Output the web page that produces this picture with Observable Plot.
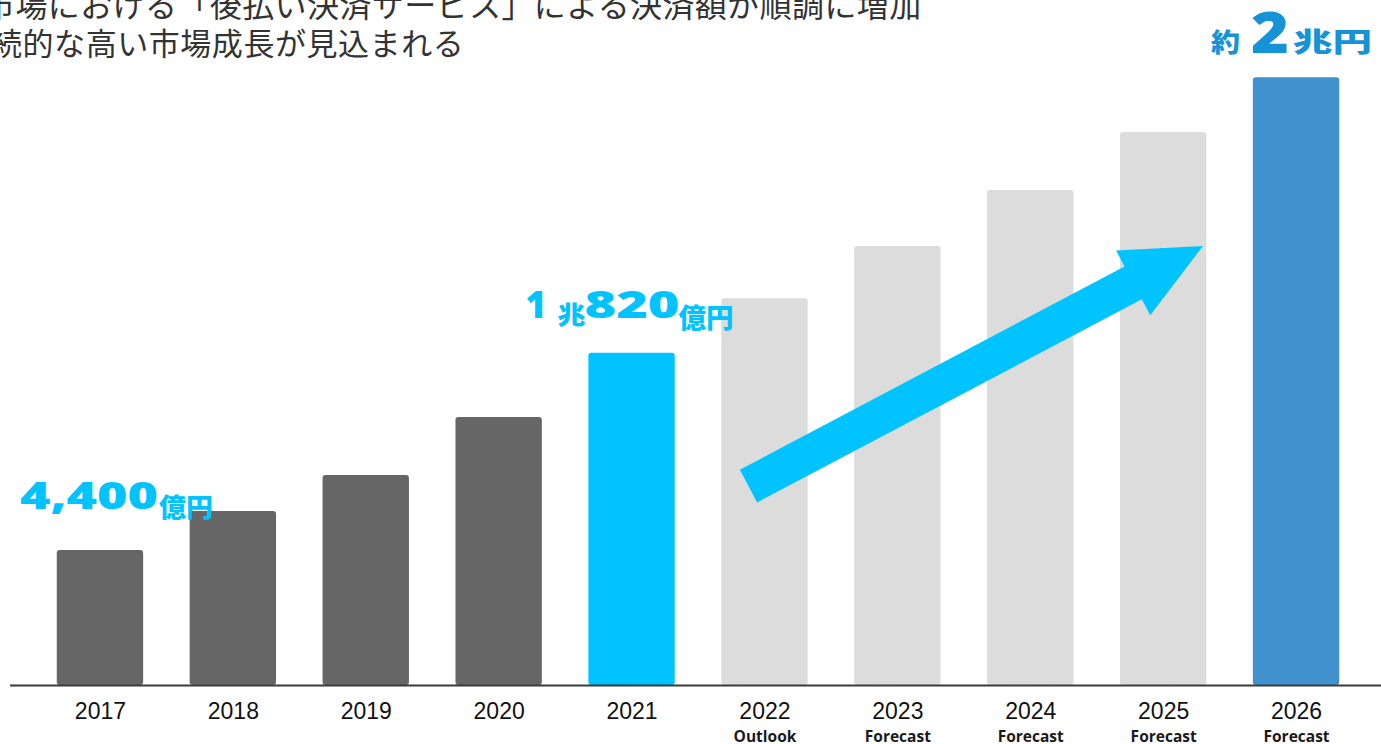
<!DOCTYPE html>
<html><head><meta charset="utf-8">
<script src="https://cdn.jsdelivr.net/npm/d3@7"></script>
<script src="https://cdn.jsdelivr.net/npm/@observablehq/plot@0.6"></script>
<style>
html,body{margin:0;padding:0;background:#fff;overflow:hidden;width:1381px;height:744px}
#wrap{position:relative;width:1381px;height:744px;overflow:hidden}
#chart{position:absolute;left:0;top:0}
.t{position:absolute;white-space:nowrap;font-family:"Noto Sans CJK JP","Noto Sans",sans-serif;color:#333}
</style></head><body>
<div id="wrap"><div id="chart"></div>
<div class="t" style="left:-17px;top:-13px;font-size:32px;line-height:32px;letter-spacing:0.4px">市場における「後払い決済サービス」による決済額が順調に増加</div>
<div class="t" style="left:-9px;top:26px;font-size:31px;line-height:31px;letter-spacing:0.55px">続的な高い市場成長が見込まれる</div>
</div>
<script>
// ---- data ----
const years = ["2017","2018","2019","2020","2021","2022","2023","2024","2025","2026"];
const values = [4400, 5670, 6840, 8730, 10820, 12600, 14300, 16120, 18010, 19800]; // 億円
const subLabels = ["","","","","","Outlook","Forecast","Forecast","Forecast","Forecast"];
const phases = ["actual","actual","actual","actual","latest","outlook","forecast","forecast","forecast","target"];
const labelYears = ["2017","2021","2026"];
const labelParts = [["4,400","億円"],["1","兆","820","億円"],["約","2","兆円"]];
const arrowFrom = ["2022", 6480];
const arrowTo = ["2025", 14300];

const rows = years.map((year,i)=>({year, value: values[i], sub: subLabels[i], phase: phases[i]}));

// ---- styles ----
const phaseColor = {actual:"#666666", latest:"#00C3FF", outlook:"#DCDCDC", forecast:"#DCDCDC", target:"#4091CE"};
const NUM = '"Open Sans","Noto Sans",sans-serif';
const JP = '"Noto Sans CJK JP","Noto Sans",sans-serif';
const labelLayout = {
  "2017": {color:"#00C3FF", parts:[
    {dx:-80, dy:-41, size:37, len:138, font:NUM, w:800},
    {dx:59,  dy:-33, size:26, len:54,  font:JP, w:900}]},
  "2021": {color:"#00C3FF", parts:[
    {dx:-106, dy:-35, size:37, len:21, font:NUM, w:800},
    {dx:-74,  dy:-29, size:25, len:28, font:JP, w:900},
    {dx:-47,  dy:-35, size:37, len:95, font:NUM, w:800},
    {dx:47,   dy:-25, size:27, len:55, font:JP, w:900}]},
  "2026": {color:"#1593D6", parts:[
    {dx:-85, dy:-25, size:26, len:29, font:JP, w:900},
    {dx:-45, dy:-24, size:57, len:38, font:NUM, w:800},
    {dx:-3,  dy:-25, size:27, len:79, font:JP, w:900}]}
};

function bandCenter(x, v){ const bw = typeof x.bandwidth === "function" ? x.bandwidth() : 0; return x(v) + bw/2; }

function labelMark(index, scales){
  const {x, y} = scales;
  const g = d3.create("svg:g").attr("text-anchor", "start");
  labelYears.forEach((yr, i) => {
    const cx = bandCenter(x, yr);
    const top = y(values[years.indexOf(yr)]);
    const lay = labelLayout[yr];
    labelParts[i].forEach((txt, j) => {
      const p = lay.parts[j];
      g.append("text")
        .attr("x", cx + p.dx).attr("y", top + p.dy)
        .attr("text-anchor", "start")
        .attr("font-family", p.font).attr("font-weight", p.w)
        .attr("font-size", p.size).attr("fill", lay.color)
        .attr("textLength", p.len).attr("lengthAdjust", "spacingAndGlyphs")
        .text(txt);
    });
  });
  return g.node();
}

function arrowMark(index, scales){
  const {x, y} = scales;
  const step = typeof x.step === "function" ? x.step() : 133;
  const x0 = bandCenter(x, arrowFrom[0]) - 0.12*step, y0 = y(arrowFrom[1]);
  const x1 = bandCenter(x, arrowTo[0]) + 0.30*step, y1 = y(arrowTo[1]);
  const L = Math.hypot(x1-x0, y1-y0);
  const ux = (x1-x0)/L, uy = (y1-y0)/L;
  const nx = -uy, ny = ux;
  const sw = 18.5, hl = 79, hw = 36.5;
  const bx = x1 - hl*ux, by = y1 - hl*uy;
  const pts = [
    [x0 + sw*nx, y0 + sw*ny],
    [bx + sw*nx, by + sw*ny],
    [bx + hw*nx, by + hw*ny],
    [x1, y1],
    [bx - hw*nx, by - hw*ny],
    [bx - sw*nx, by - sw*ny],
    [x0 - sw*nx, y0 - sw*ny]
  ];
  return d3.create("svg:polygon").attr("points", pts.map(p=>p.join(",")).join(" ")).attr("fill", "#00C3FF").node();
}

const chart = Plot.plot({
  width: 1381,
  height: 744,
  marginLeft: 10,
  marginRight: 0,
  marginTop: 0,
  marginBottom: 0,
  style: {background: "white"},
  x: {type: "band", domain: years, range: [33.5, 1362.5], paddingInner: 0.35, paddingOuter: 0.175, round: false, axis: null},
  y: {domain: [0, 20000], range: [685, 71], axis: null},
  marks: [
    Plot.barY(rows, {x: "year", y: "value", fill: d => phaseColor[d.phase], rx: 3}),
    Plot.ruleY([0], {stroke: "#3a3a3a", strokeWidth: 2}),
    arrowMark,
    labelMark,
    Plot.text(rows, {x: "year", y: () => 0, text: "year", dy: 26, lineAnchor: "middle", ariaLabel: "year-label",
      fontFamily: '"Liberation Sans",Arial,sans-serif', fontSize: 23, fill: "#111"}),
    Plot.text(rows, {x: "year", y: () => 0, text: "sub", dy: 52, lineAnchor: "middle", ariaLabel: "sub-label",
      fontFamily: '"Open Sans","Noto Sans",sans-serif', fontWeight: 700, fontSize: 15.5, fill: "#1a1a1a"})
  ]
});
document.getElementById("chart").appendChild(chart);
// widen the bold sub-labels slightly to match the reference's wide geometric face
d3.select(chart).selectAll('g[aria-label="sub-label"] text').each(function(){
  const n = this.getComputedTextLength();
  if (n > 0) { this.setAttribute("textLength", n * 1.1); this.setAttribute("lengthAdjust", "spacingAndGlyphs"); }
});
</script>
</body></html>
